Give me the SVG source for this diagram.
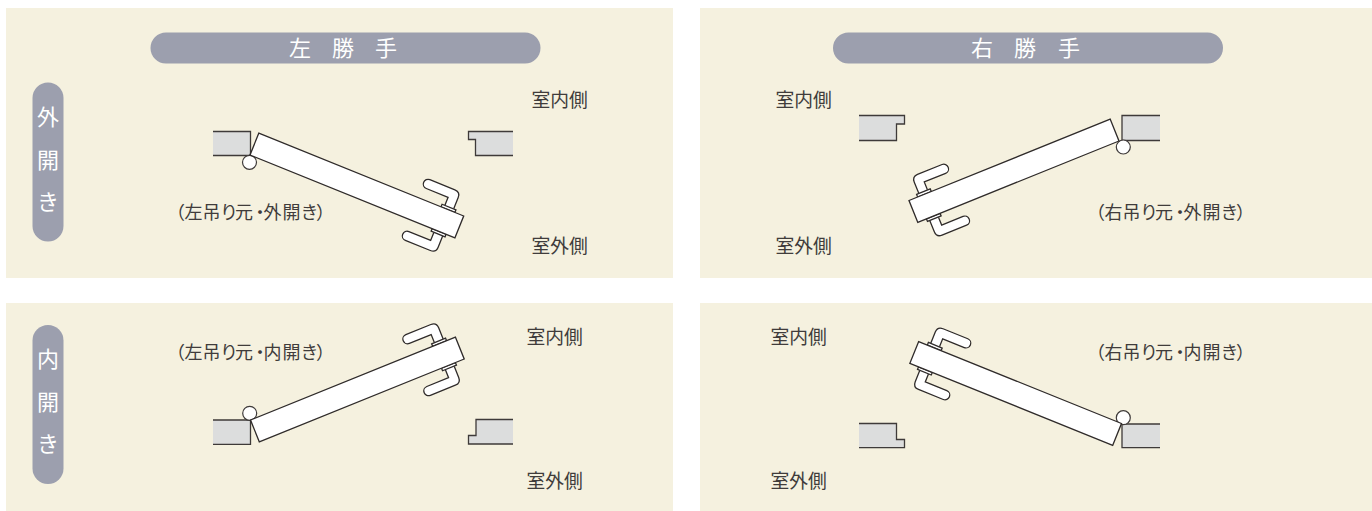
<svg xmlns="http://www.w3.org/2000/svg" xmlns:xlink="http://www.w3.org/1999/xlink" width="1372" height="511" viewBox="0 0 1372 511">
<style>
.panel{fill:#f5f1df}
.pill{fill:#9c9fae}
.wall{fill:#dcdddd;stroke:none}
.edge{fill:none;stroke:#3e3a39;stroke-width:1.3}
.door{fill:#fff;stroke:#2f2b2a;stroke-width:1.3;stroke-linejoin:miter}
.hinge{fill:#fff;stroke:#3e3a39;stroke-width:1.2}
text{font-family:"Noto Sans CJK JP","Noto Sans",sans-serif}
.lbl{font-size:18.800px;fill:#403c3b;font-weight:400}
.sub{font-size:18px;fill:#403c3b;font-weight:400}
.ttl{font-size:22px;fill:#fff;text-anchor:middle;font-weight:400}
</style>
<defs>
<g id="door-shape">
<path class="door" d="M199.500,-26.500V-35H176A4.750,4.750 0 0 1 176,-44.500H203Q209,-44.500 209,-38.500V-26.500"/>
<rect class="door" x="196.500" y="-26.300" width="15" height="2.800"/>
<path class="door" d="M199.500,3V11.500H176A4.750,4.750 0 0 0 176,21H203Q209,21 209,15V3"/>
<rect class="door" x="196.500" y="0" width="15" height="2.800"/>
<rect class="door" x="0" y="-23.500" width="221" height="23.500"/>
</g>
</defs>
<g id="panels">
<rect class="panel" x="6" y="8" width="667" height="270"/>
<rect class="panel" x="700" y="8" width="672" height="270"/>
<rect class="panel" x="6" y="303" width="667" height="208"/>
<rect class="panel" x="700" y="303" width="672" height="208"/>
</g>
<g id="header-left">
<rect class="pill" x="150.500" y="32.500" width="390" height="31" rx="15.500"/>
<text class="ttl" x="300" y="56">左</text><text class="ttl" x="343" y="56">勝</text><text class="ttl" x="386" y="56">手</text>
</g>
<g id="header-right">
<rect class="pill" x="833" y="32.500" width="390" height="31" rx="15.500"/>
<text class="ttl" x="982" y="56">右</text><text class="ttl" x="1025" y="56">勝</text><text class="ttl" x="1069" y="56">手</text>
</g>
<g id="side-out">
<rect class="pill" x="32.500" y="82.500" width="31" height="159" rx="15.500"/>
<text class="ttl" x="48" y="125">外</text><text class="ttl" x="48" y="168">開</text><text class="ttl" x="48" y="210">き</text>
</g>
<g id="side-in">
<rect class="pill" x="32.500" y="325" width="31" height="159" rx="15.500"/>
<text class="ttl" x="48" y="367">内</text><text class="ttl" x="48" y="410">開</text><text class="ttl" x="48" y="452">き</text>
</g>
<g id="door-left-out">
<path class="wall" d="M213,131.500H250.500V155.500H213Z"/><path class="edge" d="M213,131.500H250.500V155.500H213"/>
<path class="wall" d="M513,131.500H468.500V139.500H475.500V155.500H513Z"/><path class="edge" d="M513,131.500H468.500V139.500H475.500V155.500H513"/>
<circle class="hinge" cx="249.500" cy="162.300" r="7"/>
<use xlink:href="#door-shape" href="#door-shape" transform="translate(250,155) rotate(22)"/>
<text class="lbl" x="531.500" y="106.500">室内側</text><text class="lbl" x="531.500" y="252.500">室外側</text>
<text class="sub" x="167 184.500 202.500 220 235 251 263.500 282.500 300.500 316" y="218.500">（左吊り元・外開き）</text>
</g>
<g id="door-right-out">
<path class="wall" d="M1160,115.500H1122V140.500H1160Z"/><path class="edge" d="M1160,115.500H1122V140.500H1160"/>
<path class="wall" d="M859,115.500H904.500V124H896.500V140.500H859Z"/><path class="edge" d="M859,115.500H904.500V124H896.500V140.500H859"/>
<circle class="hinge" cx="1123.300" cy="147" r="7"/>
<use xlink:href="#door-shape" href="#door-shape" transform="translate(1119,141) scale(-1,1) rotate(22) scale(0.982,1)"/>
<text class="lbl" x="775.500" y="106.500">室内側</text><text class="lbl" x="775.500" y="252.500">室外側</text>
<text class="sub" x="1087 1104.500 1122.500 1140 1155 1171 1183.500 1202.500 1220.500 1236" y="218.500">（右吊り元・外開き）</text>
</g>
<g id="door-left-in">
<path class="wall" d="M213,420H250.500V444.300H213Z"/><path class="edge" d="M213,420H250.500V444.300H213"/>
<path class="wall" d="M513,419.500H476V435.500H468.500V444H513Z"/><path class="edge" d="M513,419.500H476V435.500H468.500V444H513"/>
<circle class="hinge" cx="249.700" cy="413.300" r="7"/>
<use xlink:href="#door-shape" href="#door-shape" transform="translate(250.500,420) scale(1,-1) rotate(22)"/>
<text class="lbl" x="526.500" y="343.500">室内側</text><text class="lbl" x="526.500" y="487.500">室外側</text>
<text class="sub" x="167 184.500 202.500 220 235 251 263.500 282.500 300.500 316" y="358.500">（左吊り元・内開き）</text>
</g>
<g id="door-right-in">
<path class="wall" d="M1160,424H1122V447.700H1160Z"/><path class="edge" d="M1160,424H1122V447.700H1160"/>
<path class="wall" d="M859,423.500H896.500V439.500H904.500V447.700H859Z"/><path class="edge" d="M859,423.500H896.500V439.500H904.500V447.700H859"/>
<circle class="hinge" cx="1123.300" cy="417.700" r="7"/>
<use xlink:href="#door-shape" href="#door-shape" transform="translate(1121.500,423.500) scale(-1,-1) rotate(22) scale(0.99,1)"/>
<text class="lbl" x="770.500" y="343.500">室内側</text><text class="lbl" x="770.500" y="487.500">室外側</text>
<text class="sub" x="1087 1104.500 1122.500 1140 1155 1171 1183.500 1202.500 1220.500 1236" y="358.500">（右吊り元・内開き）</text>
</g>
</svg>
